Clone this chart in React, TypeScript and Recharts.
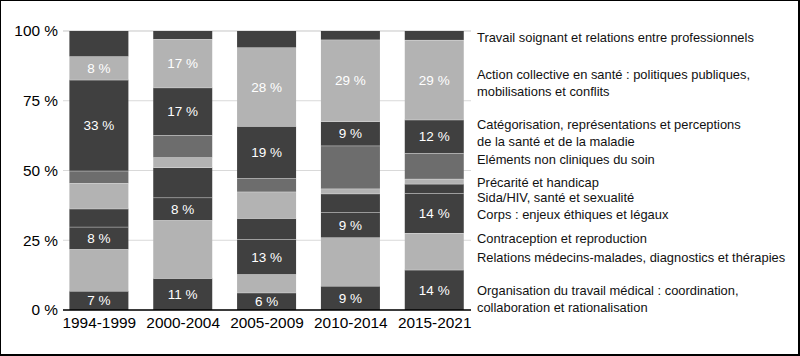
import { BarChart, Bar, XAxis, YAxis, CartesianGrid, LabelList, ReferenceLine } from 'recharts'

const periods = ['1994-1999', '2000-2004', '2005-2009', '2010-2014', '2015-2021']

// shares in %, bottom of the stack to the top
const organisation = [6.8, 11.4, 6.2, 8.6, 14.4]
const relations = [15.0, 20.8, 6.6, 17.4, 13.2]
const contraception = [0, 0, 0, 0, 0]
const corps = [8.0, 8.1, 12.6, 9.1, 14.2]
const sida = [6.5, 10.8, 7.5, 6.6, 3.4]
const precarite = [9.2, 3.6, 9.5, 1.8, 1.8]
const elements = [4.4, 8.0, 4.8, 15.4, 9.2]
const categorisation = [32.6, 17.0, 18.7, 8.7, 12.0]
const action = [8.4, 17.4, 28.2, 29.3, 28.6]
const travail = [9.1, 2.9, 5.9, 3.1, 3.2]

const yTicks = [0, 25, 50, 75, 100]

// where each theme name sits along the right side (in % of the scale)
const nameTicks = [3.9, 19.0, 25.8, 34.4, 40.5, 45.9, 53.8, 63.3, 81.5, 97.8]

const DARK = '#404040'
const LIGHT = '#b3b3b3'
const MID = '#6d6d6d'

const series = [
  { key: 'organisation', values: organisation, color: DARK, label: true,
    name: 'Organisation du travail médical : coordination,\ncollaboration et rationalisation' },
  { key: 'relations', values: relations, color: LIGHT, label: false,
    name: 'Relations médecins-malades, diagnostics et thérapies' },
  { key: 'contraception', values: contraception, color: DARK, label: false,
    name: 'Contraception et reproduction' },
  { key: 'corps', values: corps, color: DARK, label: true,
    name: 'Corps : enjeux éthiques et légaux' },
  { key: 'sida', values: sida, color: DARK, label: false,
    name: 'Sida/HIV, santé et sexualité' },
  { key: 'precarite', values: precarite, color: LIGHT, label: false,
    name: 'Précarité et handicap' },
  { key: 'elements', values: elements, color: MID, label: false,
    name: 'Eléments non cliniques du soin' },
  { key: 'categorisation', values: categorisation, color: DARK, label: true,
    name: 'Catégorisation, représentations et perceptions\nde la santé et de la maladie' },
  { key: 'action', values: action, color: LIGHT, label: true,
    name: 'Action collective en santé : politiques publiques,\nmobilisations et conflits' },
  { key: 'travail', values: travail, color: DARK, label: false,
    name: 'Travail soignant et relations entre professionnels' },
]

const data = periods.map((period, i) => {
  const row: Record<string, string | number> = { period }
  series.forEach((s) => {
    row[s.key] = s.values[i]
  })
  return row
})

const FONT = '"Liberation Sans", Arial, sans-serif'

function Segment(props: any) {
  const { x, y, width, height, fill, sep } = props
  if (!height || height <= 0) return null
  return (
    <g>
      <rect x={x} y={y} width={width} height={height} fill={fill} />
      {sep && <line x1={x} x2={x + width} y1={y} y2={y} stroke="#e4e4e4" strokeWidth={1} />}
    </g>
  )
}

// theme name drawn to the right of the plot, vertically centred on its reference value
function nameLabel(text: string) {
  return (props: any) => {
    const vb = props.viewBox || {}
    const x = vb.x + vb.width + 6
    const y = vb.y
    const lines = text.split('\n')
    const lh = 17
    return (
      <text x={x} y={y} fill="#111" fontSize={12.9} fontFamily={FONT} textAnchor="start">
        {lines.map((l, i) => (
          <tspan key={i} x={x} dy={i === 0 ? -((lines.length - 1) * lh) / 2 + 4.6 : lh}>
            {l}
          </tspan>
        ))}
      </text>
    )
  }
}

export default function App() {
  return (
    <div style={{ position: 'absolute', left: 0, top: 0, width: 800, height: 356, background: '#fff' }}>
      <BarChart
        width={800}
        height={356}
        data={data}
        margin={{ top: 31, right: 329, bottom: 16, left: 3 }}
        barSize={59}
      >
        <CartesianGrid vertical={false} stroke="#d9d9d9" />
        <XAxis
          dataKey="period"
          padding={{ left: -5.6, right: -5.6 }}
          height={30}
          tickSize={0}
          tickMargin={7}
          axisLine={{ stroke: '#000', strokeWidth: 1.3 }}
          tickLine={false}
          tick={{ fill: '#000', fontSize: 15.4, fontFamily: FONT }}
        />
        <YAxis
          domain={[0, 100]}
          ticks={yTicks}
          interval={0}
          width={60}
          tickSize={0}
          tickMargin={5}
          axisLine={false}
          tickLine={false}
          tickFormatter={(v: number) => `${v} %`}
          tick={{ fill: '#000', fontSize: 15.4, fontFamily: FONT }}
        />
        {series.map((s, i) => (
          <Bar
            key={s.key}
            dataKey={s.key}
            stackId="a"
            fill={s.color}
            isAnimationActive={false}
            shape={(p: any) => <Segment {...p} sep={i < series.length - 1} />}
          >
            {s.label && (
              <LabelList
                dataKey={s.key}
                position="center"
                fill="#fff"
                fontSize={13.5}
                fontFamily={FONT}
                formatter={(v: any) => `${Math.round(Number(v))} %`}
              />
            )}
          </Bar>
        ))}
        {series.map((s, i) => (
          <ReferenceLine
            key={'name-' + s.key}
            y={nameTicks[i]}
            stroke="none"
            ifOverflow="visible"
            label={nameLabel(s.name)}
          />
        ))}
      </BarChart>
      <div
        style={{
          position: 'absolute',
          inset: 0,
          borderLeft: '1px solid #000',
          borderTop: '1px solid #000',
          borderRight: '2px solid #000',
          borderBottom: '2px solid #000',
          pointerEvents: 'none',
        }}
      />
    </div>
  )
}
